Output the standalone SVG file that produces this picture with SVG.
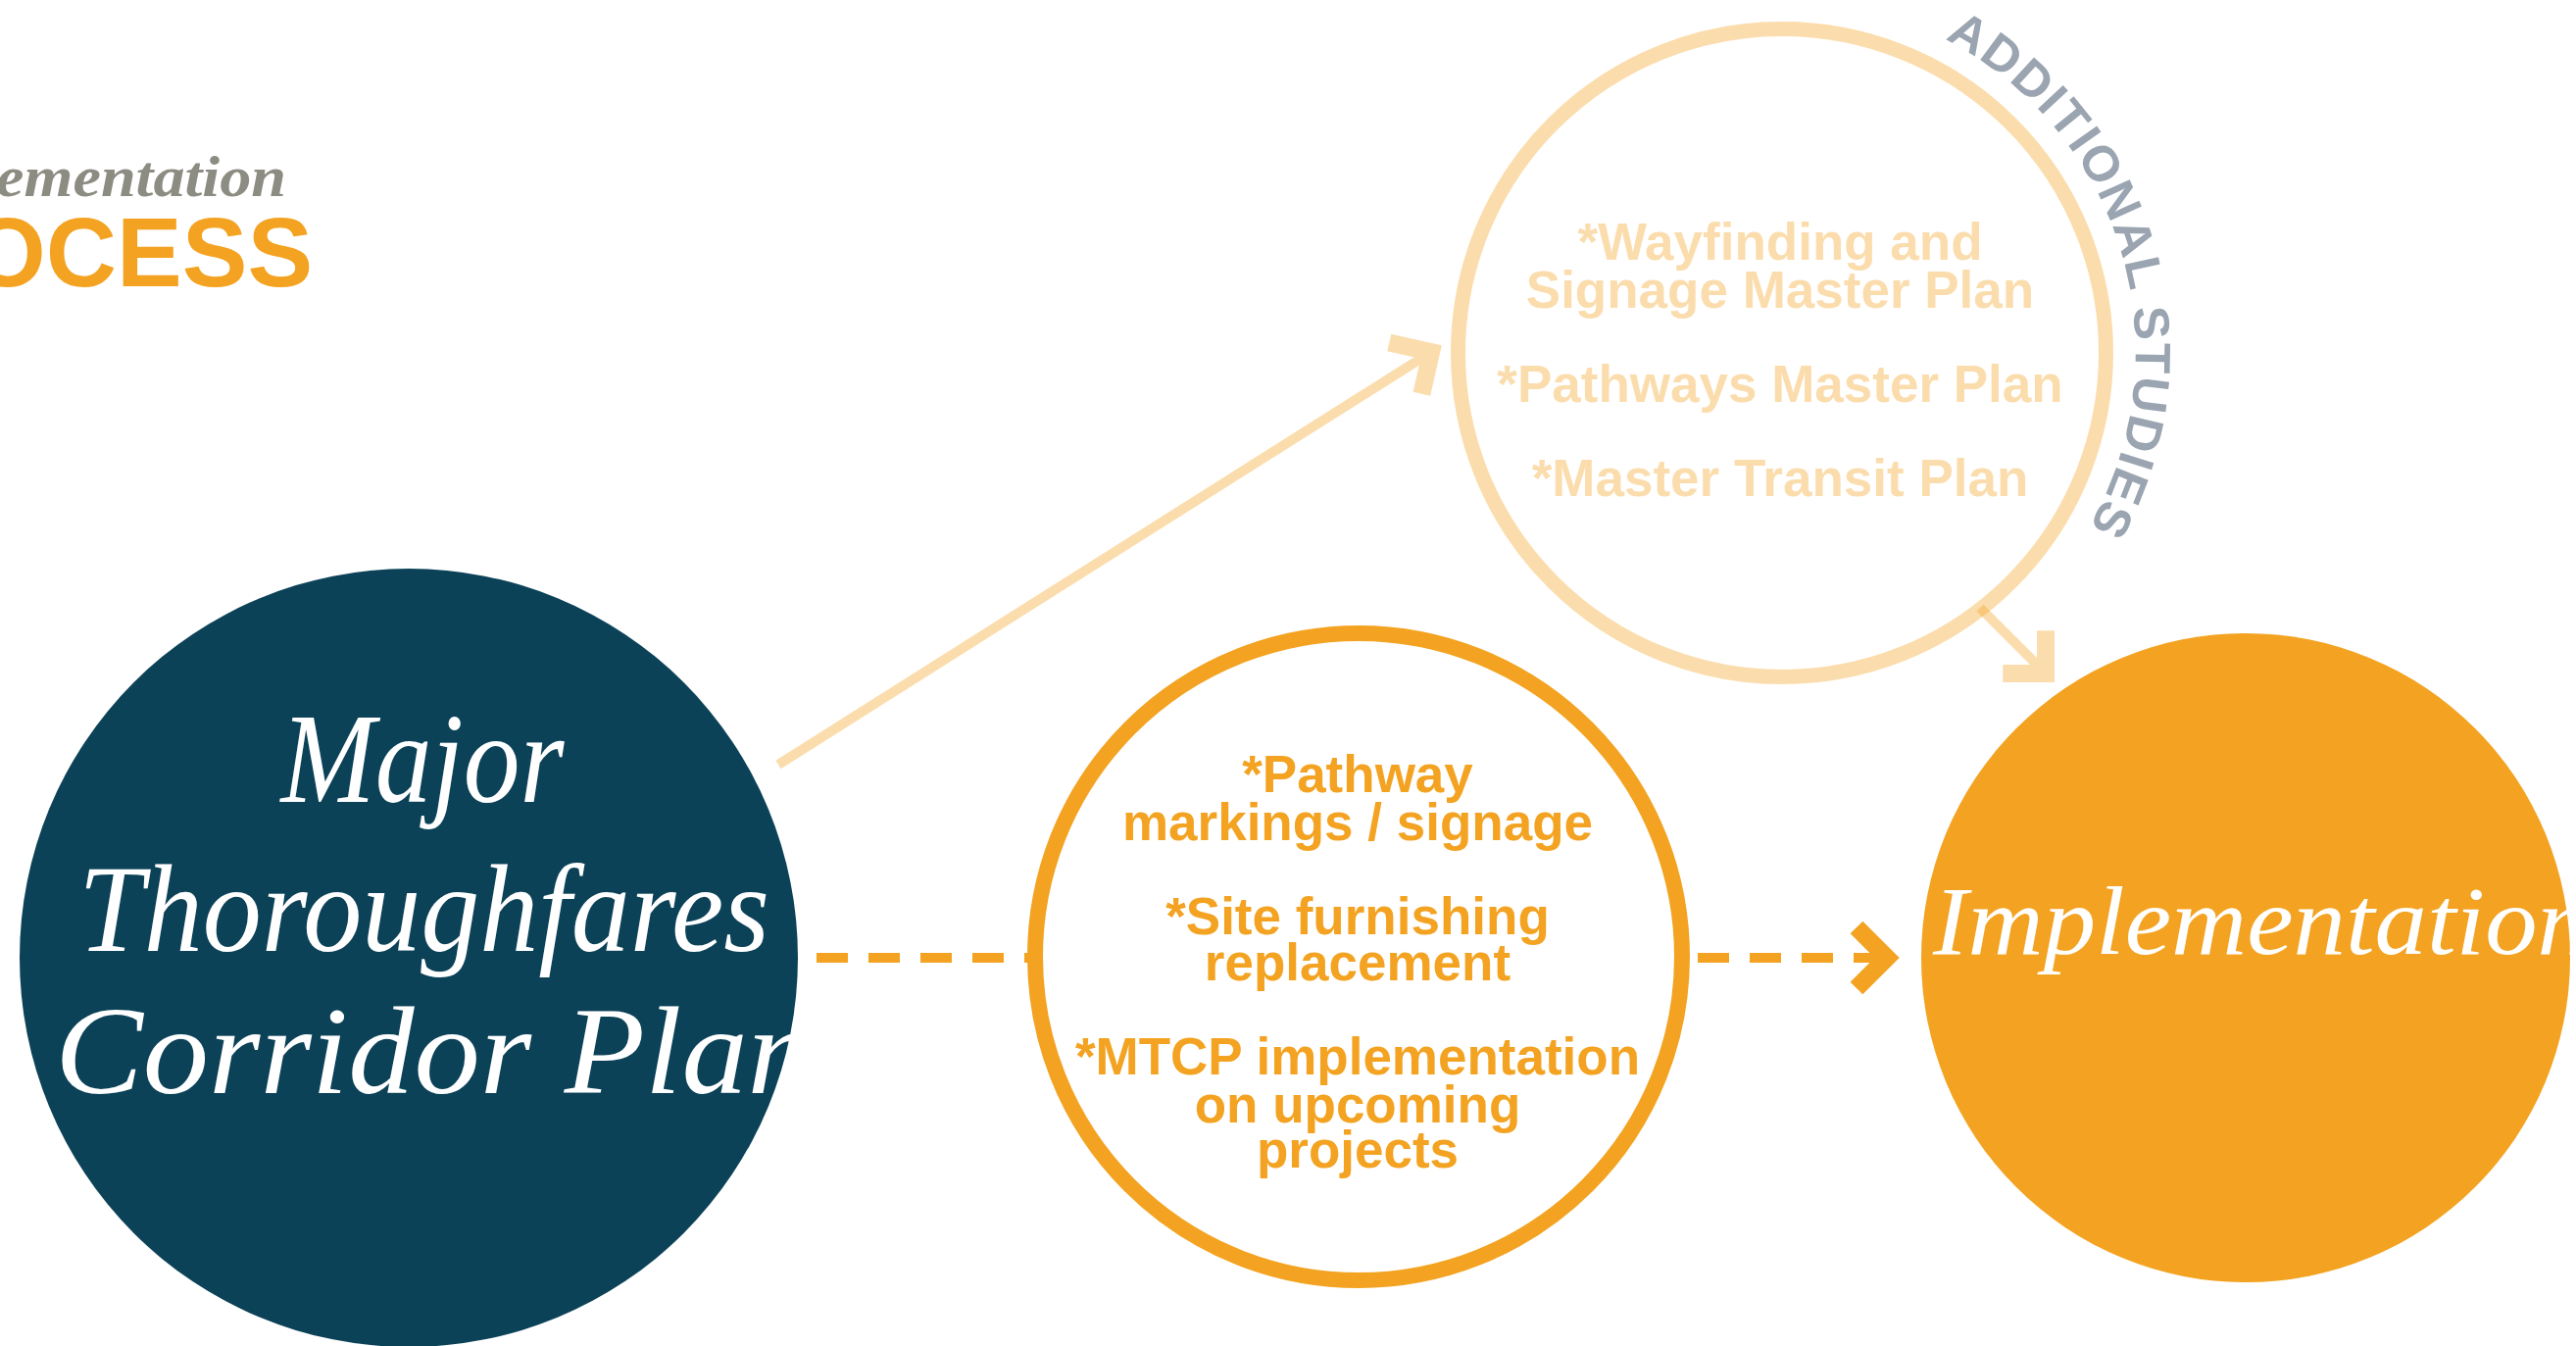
<svg xmlns="http://www.w3.org/2000/svg" width="2628" height="1373" viewBox="0 0 2628 1373">
<style>
.script{font-family:"Liberation Serif","DejaVu Serif",serif;font-style:italic;fill:#ffffff}
.bold{font-family:"Liberation Sans",Arial,sans-serif;font-weight:bold;font-size:53px;text-anchor:middle}
.peachtxt{fill:#fbddad}
.orangetxt{fill:#f3a321}
.dash{stroke:#f3a321;stroke-width:10;stroke-dasharray:32 21;fill:none}
.peachline{stroke:#f3a321;stroke-opacity:0.37;stroke-width:10;fill:none}
.arc{font-family:"Liberation Sans",Arial,sans-serif;font-weight:bold;font-size:51px;fill:#9aa5b1;letter-spacing:1.8px}
</style>
<defs>
<marker id="chevO" markerUnits="userSpaceOnUse" viewBox="-60 -60 90 120" markerWidth="90" markerHeight="120" refX="-10" refY="0" orient="auto" overflow="visible">
<path d="M-31,-31 L0,0 L-31,31" fill="none" stroke="#f3a321" stroke-width="18" stroke-linejoin="miter"/>
</marker>
<marker id="chevP" markerUnits="userSpaceOnUse" viewBox="-60 -60 90 120" markerWidth="90" markerHeight="120" refX="-10" refY="0" orient="auto" overflow="visible">
<path d="M-31,-31 L0,0 L-31,31" fill="none" stroke="#fbddad" stroke-width="18" stroke-linejoin="miter"/>
</marker>
<path id="arcPath" d="M 1984 40 A 359 359 0 0 1 1997.5 671"/>
</defs>
<rect width="2628" height="1373" fill="#ffffff"/>

<g id="title">
<text x="-4" y="200" font-family="'Liberation Serif','DejaVu Serif',serif" font-style="italic" font-weight="bold" font-size="60" fill="#8d8c82" textLength="296" lengthAdjust="spacingAndGlyphs">ementation</text>
<text x="-31" y="292" font-family="'Liberation Sans',Arial,sans-serif" font-weight="bold" font-size="100" fill="#f3a321">OCESS</text>
</g>

<g id="connectors">
<path class="peachline" d="M 794 780 L 1451.6 364.4" marker-end="url(#chevP)"/>
<path class="peachline" d="M 2020 620 L 2080 680" marker-end="url(#chevP)"/>
<path class="dash" d="M 833 977 L 1050 977"/>
<path class="dash" d="M 1732 977 L 1915 977" marker-end="url(#chevO)"/>
</g>

<g id="node-mtcp">
<circle cx="417" cy="977" r="397" fill="#0c4258"/>
<text class="script" x="431" y="818" font-size="132" text-anchor="middle" textLength="289" lengthAdjust="spacingAndGlyphs">Major</text>
<text class="script" x="80" y="970" font-size="128" textLength="705" lengthAdjust="spacingAndGlyphs">Thoroughfares</text>
<text class="script" x="56" y="1115" font-size="128" textLength="774" lengthAdjust="spacingAndGlyphs">Corridor Plan</text>
</g>

<g id="node-additional">
<circle cx="1818" cy="360" r="330.5" fill="none" stroke="#f3a321" stroke-opacity="0.37" stroke-width="15"/>
<text class="bold peachtxt" x="1816" y="265">*Wayfinding and</text>
<text class="bold peachtxt" x="1816" y="314">Signage Master Plan</text>
<text class="bold peachtxt" x="1816" y="410">*Pathways Master Plan</text>
<text class="bold peachtxt" x="1816" y="506">*Master Transit Plan</text>
<text class="arc"><textPath href="#arcPath">ADDITIONAL STUDIES</textPath></text>
</g>

<g id="node-projects">
<circle cx="1386" cy="976" r="330" fill="#ffffff" stroke="#f3a321" stroke-width="16"/>
<text class="bold orangetxt" x="1385" y="808">*Pathway</text>
<text class="bold orangetxt" x="1385" y="857">markings / signage</text>
<text class="bold orangetxt" x="1385" y="953">*Site furnishing</text>
<text class="bold orangetxt" x="1385" y="1000">replacement</text>
<text class="bold orangetxt" x="1385" y="1096">*MTCP implementation</text>
<text class="bold orangetxt" x="1385" y="1145">on upcoming</text>
<text class="bold orangetxt" x="1385" y="1191">projects</text>
</g>

<g id="node-implementation">
<circle cx="2291" cy="977" r="331" fill="#f3a321"/>
<text class="script" x="1972" y="973" font-size="100" textLength="670" lengthAdjust="spacingAndGlyphs">Implementation</text>
</g>
</svg>
